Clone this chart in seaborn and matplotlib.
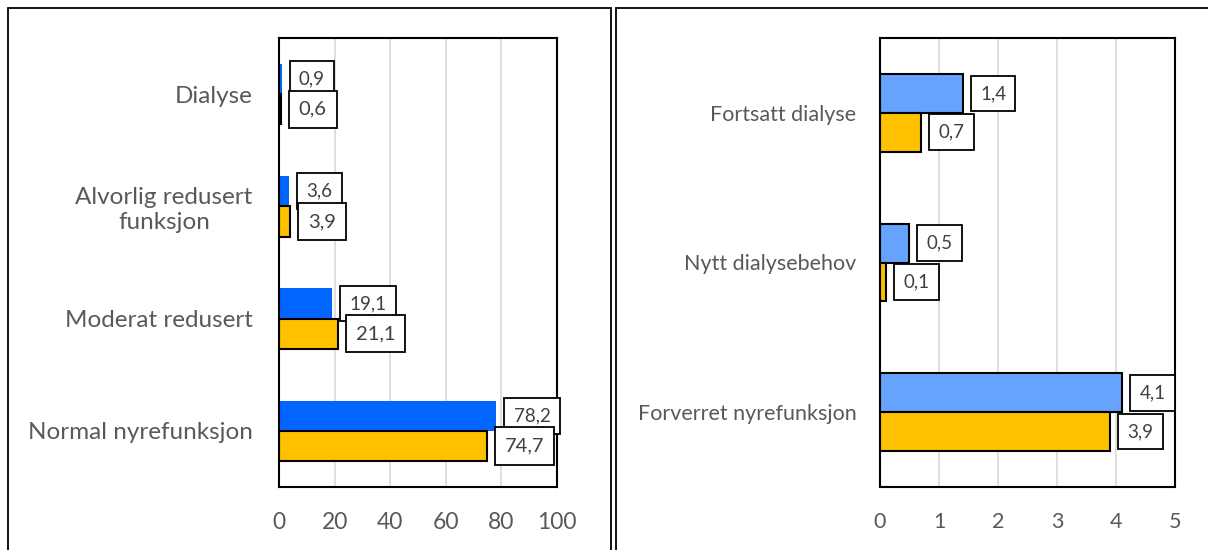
import pandas as pd
import numpy as np
import seaborn as sns
import matplotlib.pyplot as plt
from matplotlib.patches import Rectangle

# venstre diagram
kat_venstre = ['Dialyse', 'Alvorlig redusert\nfunksjon', 'Moderat redusert', 'Normal nyrefunksjon']
serie1_venstre = [0.9, 3.6, 19.1, 78.2]
serie2_venstre = [0.6, 3.9, 21.1, 74.7]
ticks_venstre = [0, 20, 40, 60, 80, 100]

# hoyre diagram
kat_hoyre = ['Fortsatt dialyse', 'Nytt dialysebehov', 'Forverret nyrefunksjon']
serie1_hoyre = [1.4, 0.5, 4.1]
serie2_hoyre = [0.7, 0.1, 3.9]
ticks_hoyre = [0, 1, 2, 3, 4, 5]

serier = ['Serie 1', 'Serie 2']

sns.set_style('white')
plt.rcParams['font.family'] = ['Lato', 'DejaVu Sans']

DPI = 100
fig = plt.figure(figsize=(12.08, 5.5), dpi=DPI)

# ytre rammer
fig.patches.append(Rectangle((8 / 1208, -0.1), 603 / 1208, 542 / 550 + 0.1,
                             transform=fig.transFigure, fill=False, ec='black', lw=1.3))
fig.patches.append(Rectangle((616 / 1208, -0.1), 0.6, 542 / 550 + 0.1,
                             transform=fig.transFigure, fill=False, ec='black', lw=1.3))

ax0 = fig.add_axes([279 / 1208, 63 / 550, 278 / 1208, 449 / 550])
ax1 = fig.add_axes([880 / 1208, 63 / 550, 295 / 1208, 449 / 550])


def lag_df(kat, s1, s2):
    return pd.DataFrame({
        'kategori': kat * 2,
        'verdi': s1 + s2,
        'serie': [serier[0]] * len(kat) + [serier[1]] * len(kat),
    })


def tegn(ax, kat, s1, s2, farger, kanter, bredde, ticks, ysize, ypad, xsize, lsizes):
    df = lag_df(kat, s1, s2)
    sns.barplot(data=df, y='kategori', x='verdi', hue='serie', orient='h',
                palette=farger, width=bredde, ax=ax, legend=False, saturation=1)
    for cont, kant in zip(ax.containers, kanter):
        for bar in cont:
            if kant:
                bar.set_edgecolor('black')
                bar.set_linewidth(1.5)
            else:
                bar.set_linewidth(0)
    # dataetiketter
    for cont, fs in zip(ax.containers, lsizes):
        pad = 0.5
        off = 8 + pad * fs * DPI / 72
        for bar in cont:
            v = bar.get_width()
            yc = bar.get_y() + bar.get_height() / 2
            ax.annotate(f'{v:.1f}'.replace('.', ','), xy=(v, yc), xytext=(off, 0),
                        textcoords='offset pixels', ha='left', va='center',
                        fontsize=fs, color='#404040',
                        bbox=dict(boxstyle=f'square,pad={pad}', fc='white', ec='black', lw=1.3))
    ax.set_xlim(ticks[0], ticks[-1])
    ax.set_xticks(ticks)
    ax.set_xticklabels([str(t) for t in ticks])
    ax.set_ylim(len(kat) - 0.5, -0.5)
    ax.grid(axis='x', color='#D9D9D9', lw=1.2)
    ax.set_axisbelow(True)
    ax.set_xlabel('')
    ax.set_ylabel('')
    for sp in ax.spines.values():
        sp.set_visible(True)
        sp.set_color('black')
        sp.set_linewidth(1.5)
    ax.tick_params(axis='x', length=0, pad=18, labelsize=xsize, labelcolor='#595959')
    ax.tick_params(axis='y', length=0, pad=ypad, labelsize=ysize, labelcolor='#595959')
    for lbl in ax.get_yticklabels():
        lbl.set_multialignment('center')


tegn(ax0, kat_venstre, serie1_venstre, serie2_venstre, ['#0066FF', '#FFC000'],
     [False, True], 0.54, ticks_venstre, 17.5, 19, 16.5, [13.5, 14.5])
tegn(ax1, kat_hoyre, serie1_hoyre, serie2_hoyre, ['#66A3FF', '#FFC000'],
     [True, True], 0.52, ticks_hoyre, 15.5, 17, 15.5, [13.5, 13.5])

plt.savefig('out.png', dpi=DPI)
plt.close()
